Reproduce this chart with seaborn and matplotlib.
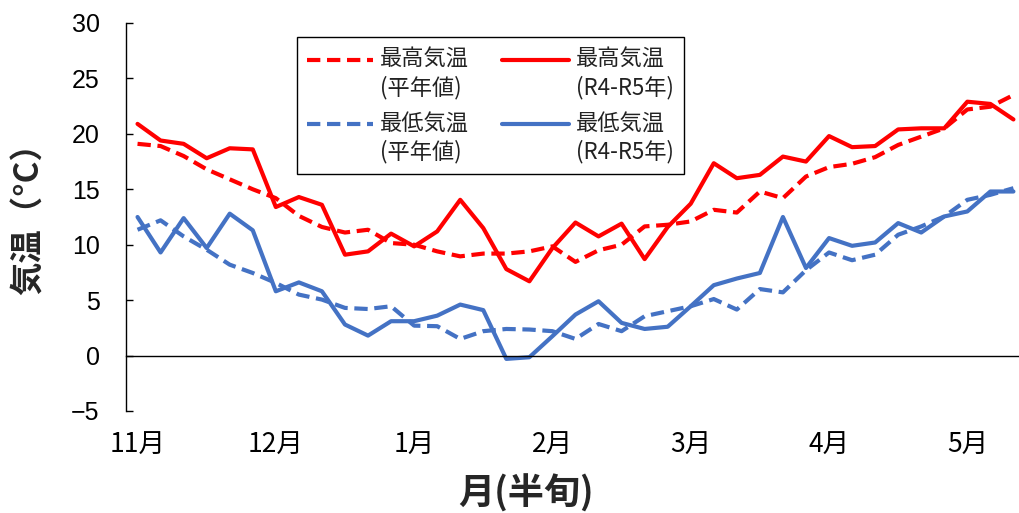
import numpy as np
import pandas as pd
import matplotlib
matplotlib.use('Agg')
import matplotlib.pyplot as plt
import seaborn as sns
from matplotlib.ticker import FixedLocator


# 半旬ごとの気温 (11月第1半旬 ～ 5月第3半旬)
hanjun = list(range(39))
month_pos = [0, 6, 12, 18, 24, 30, 36]
month_labels = ['11月', '12月', '1月', '2月', '3月', '4月', '5月']
y_ticks = [-5, 0, 5, 10, 15, 20, 25, 30]

max_heinen = [19.1, 18.9, 18.0, 16.8, 15.9, 15.0, 14.2, 12.6, 11.6, 11.1,
              11.35, 10.15, 10.0, 9.4, 8.95, 9.2, 9.2, 9.4, 9.85, 8.45,
              9.5, 10.0, 11.65, 11.8, 12.1, 13.15, 12.9, 14.8, 14.2, 16.15,
              17.0, 17.3, 17.9, 19.0, 19.75, 20.5, 22.2, 22.45, 23.5]
max_r4r5 = [20.9, 19.4, 19.1, 17.8, 18.7, 18.6, 13.4, 14.3, 13.6, 9.1,
            9.4, 11.0, 9.85, 11.2, 14.05, 11.5, 7.8, 6.7, 9.7, 12.0,
            10.75, 11.9, 8.7, 11.6, 13.7, 17.35, 16.0, 16.3, 17.95, 17.5,
            19.8, 18.8, 18.9, 20.4, 20.5, 20.5, 22.9, 22.7, 21.3]
min_heinen = [11.35, 12.2, 10.75, 9.55, 8.2, 7.45, 6.55, 5.5, 5.05, 4.3,
              4.2, 4.45, 2.7, 2.65, 1.5, 2.2, 2.4, 2.35, 2.2, 1.5,
              2.85, 2.2, 3.55, 4.0, 4.45, 5.1, 4.15, 6.0, 5.7, 7.7,
              9.3, 8.6, 9.1, 10.9, 11.65, 12.55, 14.05, 14.5, 15.1]
min_r4r5 = [12.5, 9.3, 12.4, 9.7, 12.8, 11.3, 5.8, 6.6, 5.8, 2.8,
            1.8, 3.1, 3.1, 3.6, 4.6, 4.1, -0.3, -0.15, 1.75, 3.7,
            4.9, 2.95, 2.4, 2.6, 4.45, 6.35, 6.95, 7.45, 12.5, 7.9,
            10.6, 9.9, 10.2, 11.95, 11.1, 12.55, 13.0, 14.8, 14.8]

names = ['最高気温\n(平年値)', '最低気温\n(平年値)', '最高気温\n(R4-R5年)', '最低気温\n(R4-R5年)']
values = [max_heinen, min_heinen, max_r4r5, min_r4r5]

df = pd.concat([pd.DataFrame({'半旬': hanjun, '気温': v, '系列': n})
                for n, v in zip(names, values)], ignore_index=True)

red = '#FF0000'
blue = '#4472C4'
palette = {names[0]: red, names[1]: blue, names[2]: red, names[3]: blue}
dashes = {names[0]: (3.2, 1.6), names[1]: (3.2, 1.6), names[2]: '', names[3]: ''}

sns.set_style('white')
plt.rcParams['font.family'] = ['Noto Sans CJK JP', 'DejaVu Sans']

fig = plt.figure(figsize=(10.2, 5.13), dpi=100)
ax = fig.add_axes([126 / 1020, 102 / 513, 894 / 1020, 388 / 513])

sns.lineplot(data=df, x='半旬', y='気温', hue='系列', style='系列',
             palette=palette, dashes=dashes, linewidth=3, ax=ax)

ax.set_xlim(-0.5, -0.5 + 894 / 23.05)
ax.set_ylim(-5, 30)
ax.set_yticks(y_ticks)
ax.set_yticklabels(['−5' if t < 0 else str(t) for t in y_ticks],
                   family=['Liberation Sans', 'DejaVu Sans'])

# x軸は0℃の位置
ax.spines['bottom'].set_position(('data', 0))
for s in ['top', 'right']:
    ax.spines[s].set_visible(False)
for s in ['left', 'bottom']:
    ax.spines[s].set_color('black')
    ax.spines[s].set_linewidth(1.0)

ax.xaxis.set_major_locator(FixedLocator(month_pos))
ax.set_xticklabels(month_labels)
ax.xaxis.set_minor_locator(FixedLocator(np.arange(0.5, 38, 1)))
ax.tick_params(axis='x', which='major', length=0, pad=55, labelsize=19, colors='black')
ax.tick_params(axis='x', which='minor', direction='out', length=5, width=1, color='black')
ax.tick_params(axis='y', direction='in', length=5, width=1, pad=19, labelsize=18,
               colors='black', left=True)

ax.set_xlabel('月(半旬)', fontsize=26, fontweight='bold', va='center')
ax.xaxis.set_label_coords(0.4474, -0.2113)
ax.set_ylabel('気温（°C）', fontsize=24, fontweight='bold', va='center')
ax.yaxis.set_label_coords(-0.1079, 0.5155)

ax.get_legend().remove()
lines = ax.lines[:4]
leg = ax.legend([lines[0], lines[1], lines[2], lines[3]], names, ncol=2,
                loc='upper left', bbox_to_anchor=(0.191, 0.964), borderaxespad=0,
                fontsize=16, frameon=True, fancybox=False, framealpha=1,
                edgecolor='black', handlelength=3.0, handletextpad=0.3,
                columnspacing=1.5, borderpad=0.45, labelspacing=0.55)
leg.get_frame().set_linewidth(1.0)
for t in leg.get_texts():
    t.set_color('#222222')
    t.set_linespacing(1.3)
# 凡例の線は1行目の高さに合わせる
for l in leg.get_lines():
    l.set_ydata(np.asarray(l.get_ydata()) + 10.5)

fig.savefig('out.png', dpi=100)
